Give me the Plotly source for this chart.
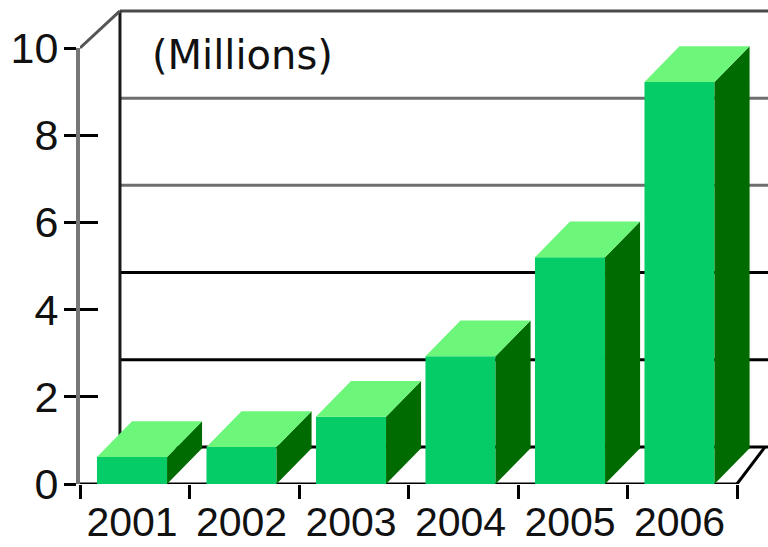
import plotly.graph_objects as go

# ---- data ----
years = ["2001", "2002", "2003", "2004", "2005", "2006"]
values = [0.62, 0.85, 1.54, 2.93, 5.2, 9.22]
y_ticks = [0, 2, 4, 6, 8, 10]
y_tick_text = ["0", "2", "4", "6", "8", "10"]
grid_values = [2, 4, 6, 8]
grid_colors = ["#000000", "#000000", "#6e6e6e", "#6e6e6e"]

# ---- geometry (in axis units) ----
X_MAX = 688 / 109.5
Y_MAX = 484 / 43.6
BAR_OFF = 0.155
BAR_W = 0.64
BAR_DX = 0.32
BAR_DY = 0.82
WALL_X0 = 0.365
WALL_DY = 0.85
WALL_DX_RIGHT = 0.256
N = len(years)

FRONT = "#05CC66"
SIDE = "#006B00"
TOP = "#6CF77A"

fig = go.Figure()

def line(xs, ys, color, width):
    fig.add_trace(go.Scatter(x=xs, y=ys, mode="lines", hoverinfo="skip",
                             line=dict(color=color, width=width), showlegend=False))

# back wall gridlines
for v, c in zip(grid_values, grid_colors):
    line([WALL_X0, X_MAX], [v + WALL_DY, v + WALL_DY], c, 3)
# back floor line
line([WALL_X0, X_MAX], [WALL_DY, WALL_DY], "#000000", 3)
# top border of back wall
line([WALL_X0, X_MAX], [10 + WALL_DY, 10 + WALL_DY], "#4a4a4a", 3)
# left back wall edge
line([WALL_X0, WALL_X0], [WALL_DY, 10 + WALL_DY], "#1a1a1a", 3)
# diagonal from front axis top to wall corner
line([0, WALL_X0], [10, 10 + WALL_DY], "#555555", 3)
# front floor line and right diagonal
line([0, N], [0, 0], "#000000", 3)
line([N, N + WALL_DX_RIGHT], [0, WALL_DY], "#000000", 3)

# 3D bars
for i, v in enumerate(values):
    x0 = i + BAR_OFF
    x1 = x0 + BAR_W
    # front face
    fig.add_trace(go.Scatter(x=[x0, x1, x1, x0, x0], y=[0, 0, v, v, 0], mode="lines",
                             fill="toself", fillcolor=FRONT, line=dict(width=0, color=FRONT),
                             hoverinfo="skip", showlegend=False))
    # side face
    fig.add_trace(go.Scatter(x=[x1, x1 + BAR_DX, x1 + BAR_DX, x1, x1],
                             y=[0, BAR_DY, v + BAR_DY, v, 0], mode="lines",
                             fill="toself", fillcolor=SIDE, line=dict(width=0, color=SIDE),
                             hoverinfo="skip", showlegend=False))
    # top face
    fig.add_trace(go.Scatter(x=[x0, x1, x1 + BAR_DX, x0 + BAR_DX, x0],
                             y=[v, v, v + BAR_DY, v + BAR_DY, v], mode="lines",
                             fill="toself", fillcolor=TOP, line=dict(width=0, color=TOP),
                             hoverinfo="skip", showlegend=False))

# empty traces so the extra axes get drawn
fig.add_trace(go.Scatter(x=[None], y=[None], xaxis="x2", yaxis="y", showlegend=False, hoverinfo="skip"))
fig.add_trace(go.Scatter(x=[None], y=[None], xaxis="x", yaxis="y2", showlegend=False, hoverinfo="skip"))
fig.add_trace(go.Scatter(x=[None], y=[None], xaxis="x", yaxis="y3", showlegend=False, hoverinfo="skip"))

fig.add_annotation(text="(Millions)", x=(150 - 80) / 109.5, y=(484 - 55) / 43.6,
                   xref="x", yref="y", xanchor="left", yanchor="middle", showarrow=False,
                   font=dict(family="DejaVu Sans", size=40, color="#111111"))

centers = [i + BAR_OFF + BAR_W / 2 for i in range(N)]

fig.update_layout(
    template="none",
    width=768, height=547,
    margin=dict(l=80, r=0, t=0, b=63, autoexpand=False),
    paper_bgcolor="white", plot_bgcolor="rgba(0,0,0,0)",
    showlegend=False,
    xaxis=dict(range=[0, X_MAX], tickvals=centers, ticktext=years, ticks="",
               showgrid=False, zeroline=False, showline=False, automargin=False,
               tickfont=dict(family="Liberation Sans, Arial", size=41, color="#111111"),
               ticklabelstandoff=10),
    xaxis2=dict(range=[0, X_MAX], overlaying="x", anchor="y", side="bottom",
                tickvals=list(range(N + 1)), ticks="outside", ticklen=14, tickwidth=3,
                tickcolor="#000000", showticklabels=False, showgrid=False,
                zeroline=False, showline=False, automargin=False),
    yaxis=dict(range=[0, Y_MAX], showgrid=False, zeroline=False, showline=False,
               showticklabels=False, ticks="", automargin=False),
    yaxis2=dict(domain=[0, 10 / Y_MAX], range=[0, 10], anchor="x", side="left",
                tickvals=y_ticks, ticktext=y_tick_text, ticks="outside", ticklen=12,
                tickwidth=3, tickcolor="#000000", showline=True, linecolor="#777777",
                linewidth=4, showgrid=False, zeroline=False, automargin=False,
                tickfont=dict(family="Liberation Sans, Arial", size=43, color="#111111"),
                ticklabelstandoff=-3),
    yaxis3=dict(domain=[0, 10 / Y_MAX], range=[0, 10], anchor="x", side="left",
                tickvals=y_ticks, ticks="inside", ticklen=18, tickwidth=3,
                tickcolor="#000000", showticklabels=False, showline=False,
                showgrid=False, zeroline=False, automargin=False),
)

fig.write_html("out.html")
